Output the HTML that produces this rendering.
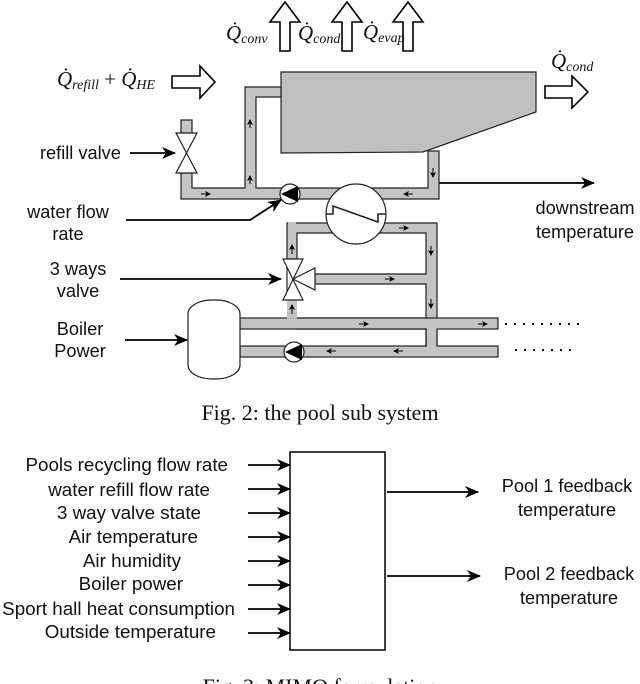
<!DOCTYPE html>
<html><head><style>
body{margin:0;background:#fff;width:640px;height:684px;overflow:hidden}
svg{display:block}
.s{font-family:"Liberation Sans",sans-serif;font-size:18.2px;fill:#111}
.t{font-family:"Liberation Sans",sans-serif;font-size:18.8px;fill:#111}
.m{font-family:"Liberation Serif",serif;font-style:italic;fill:#111}
</style></head><body>
<svg width="640" height="684" viewBox="0 0 640 684" xmlns="http://www.w3.org/2000/svg">
<defs>
<marker id="a" markerWidth="6" markerHeight="6" refX="5" refY="3" orient="auto" markerUnits="userSpaceOnUse"><path d="M0,0 L6,3 L0,6 L1.5,3 Z" fill="#000"/></marker>
<marker id="b" markerWidth="14" markerHeight="12" refX="13" refY="6" orient="auto" markerUnits="userSpaceOnUse"><path d="M0,0 L14,6 L0,12 L4,6 Z" fill="#000"/></marker>
</defs>
<path d="M281,72 L536,72 L536,112 L423,152 L281,153 Z" fill="#c0c0c0" stroke="#222" stroke-width="1.2"/>
<g fill="#c4c4c4" stroke="#222" stroke-width="1.2">
<path d="M281,87 L245,87 L245,188 L192,188 L192,173 L181,173 L181,199 L439,199 L439,151 L428,151 L428,188 L256,188 L256,97 L281,97 Z"/>
<rect x="181" y="120" width="11" height="13"/>
<path d="M287,300 L287,223 L437,223 L437,346 L426,346 L426,329 L297,329 L297,318 L426,318 L426,284 L315,284 L315,274 L426,274 L426,233 L297,233 L297,259 L287,259 Z"/>
<rect x="240" y="318" width="258" height="11"/>
<rect x="240" y="346" width="258" height="11"/>
</g>
<g fill="#c4c4c4">
<rect x="287" y="300" width="10" height="18.6"/>
<rect x="427" y="328" width="9.5" height="19"/>
<rect x="288" y="222" width="8" height="12"/>
</g>
<line x1="426" y1="329" x2="426" y2="346" stroke="#222" stroke-width="1.2"/>
<line x1="437" y1="329" x2="437" y2="346" stroke="#222" stroke-width="1.2"/>
<path d="M176,133 L197,133 L176,173 L197,173 Z" fill="#fff" stroke="#222" stroke-width="1.2"/>
<circle cx="290" cy="194" r="10" fill="#fff" stroke="#222" stroke-width="1.2"/>
<path d="M281,194 L298,186 L298,202 Z" fill="#000"/>
<circle cx="294" cy="352" r="10" fill="#fff" stroke="#222" stroke-width="1.2"/>
<path d="M285,352 L302,344 L302,360 Z" fill="#000"/>
<circle cx="356" cy="214" r="30" fill="#fff" stroke="#222" stroke-width="1.2"/>
<path d="M326,214 L333,214 L333,206 L378,222 L378,214 L386,214" fill="none" stroke="#222" stroke-width="1.6"/>
<path d="M283,259 L303,259 L283,300 L303,300 Z" fill="#fff" stroke="#222" stroke-width="1.2"/>
<path d="M293,279 L315,268 L315,290 Z" fill="#fff" stroke="#222" stroke-width="1.2"/>
<rect x="188" y="300" width="52" height="79" rx="24" ry="14" fill="#fff" stroke="#222" stroke-width="1.2"/>
<g stroke="#000" stroke-width="1" fill="#000">
<line x1="250" y1="128" x2="250" y2="120" marker-end="url(#a)"/>
<line x1="250" y1="184" x2="250" y2="176" marker-end="url(#a)"/>
<line x1="201" y1="194" x2="210" y2="194" marker-end="url(#a)"/>
<line x1="413" y1="194" x2="404" y2="194" marker-end="url(#a)"/>
<line x1="433" y1="168" x2="433" y2="177" marker-end="url(#a)"/>
<line x1="399" y1="228" x2="408" y2="228" marker-end="url(#a)"/>
<line x1="431" y1="246" x2="431" y2="255" marker-end="url(#a)"/>
<line x1="431" y1="299" x2="431" y2="308" marker-end="url(#a)"/>
<line x1="385" y1="279" x2="394" y2="279" marker-end="url(#a)"/>
<line x1="292" y1="254" x2="292" y2="245" marker-end="url(#a)"/>
<line x1="292" y1="314" x2="292" y2="305" marker-end="url(#a)"/>
<line x1="359" y1="324" x2="368" y2="324" marker-end="url(#a)"/>
<line x1="478" y1="324" x2="487" y2="324" marker-end="url(#a)"/>
<line x1="403" y1="351" x2="394" y2="351" marker-end="url(#a)"/>
<line x1="336" y1="351" x2="327" y2="351" marker-end="url(#a)"/>
</g>
<line x1="505" y1="324" x2="586" y2="324" stroke="#111" stroke-width="2" stroke-dasharray="2,7"/>
<line x1="515" y1="350" x2="576" y2="350" stroke="#111" stroke-width="2" stroke-dasharray="2,7"/>
<g fill="#fff" stroke="#000" stroke-width="1.6">
<path d="M280,51 L290,51 L290,22 L300,22 L285,2 L270,22 L280,22 Z"/>
<path d="M342,51 L352,51 L352,22 L362,22 L347,2 L332,22 L342,22 Z"/>
<path d="M403,51 L413,51 L413,22 L423,22 L408,2 L393,22 L403,22 Z"/>
<path d="M172,76 L200,76 L200,66 L215,82 L200,98 L200,88 L172,88 Z"/>
<path d="M545,86 L572,86 L572,76 L588,92 L572,108 L572,98 L545,98 Z"/>
</g>
<g class="m">
<text x="226" y="40" font-size="21">Q̇<tspan font-size="14" dy="3">conv</tspan></text>
<text x="298" y="40" font-size="21">Q̇<tspan font-size="14" dy="3">cond</tspan></text>
<text x="363" y="39" font-size="21">Q̇<tspan font-size="14" dy="3">evap</tspan></text>
<text x="57" y="86" font-size="21">Q̇<tspan font-size="14" dy="3">refill</tspan><tspan dy="-3" font-style="normal"> + </tspan>Q̇<tspan font-size="14" dy="3">HE</tspan></text>
<text x="551" y="68" font-size="21">Q̇<tspan font-size="14" dy="3">cond</tspan></text>
</g>
<g class="s">
<text x="40" y="159">refill valve</text>
<text x="68" y="218" text-anchor="middle">water flow</text>
<text x="68" y="240" text-anchor="middle">rate</text>
<text x="78" y="275" text-anchor="middle">3 ways</text>
<text x="78" y="297" text-anchor="middle">valve</text>
<text x="80" y="335" text-anchor="middle">Boiler</text>
<text x="80" y="357" text-anchor="middle">Power</text>
<text x="585" y="214" text-anchor="middle">downstream</text>
<text x="585" y="238" text-anchor="middle">temperature</text>
</g>
<g stroke="#000" stroke-width="1.8" fill="none">
<line x1="130" y1="153" x2="175" y2="153" marker-end="url(#b)"/>
<polyline points="126,220 250,220 281,200" marker-end="url(#b)"/>
<line x1="120" y1="279" x2="281" y2="279" marker-end="url(#b)"/>
<line x1="125" y1="340" x2="187" y2="340" marker-end="url(#b)"/>
<line x1="439" y1="183" x2="594" y2="183" marker-end="url(#b)"/>
</g>
<text x="320" y="420" text-anchor="middle" font-family="Liberation Serif,serif" font-size="22" fill="#111">Fig. 2: the pool sub system</text>
<rect x="290" y="452" width="95" height="198" fill="#fff" stroke="#000" stroke-width="1.5"/>
<g class="t" text-anchor="end">
<text x="228" y="471">Pools recycling flow rate</text>
<text x="210" y="496">water refill flow rate</text>
<text x="201" y="519">3 way valve state</text>
<text x="198" y="543">Air temperature</text>
<text x="181" y="567">Air humidity</text>
<text x="183" y="590">Boiler power</text>
<text x="235" y="615">Sport hall heat consumption</text>
<text x="216" y="638">Outside temperature</text>
</g>
<g stroke="#000" stroke-width="1.8">
<line x1="248" y1="465" x2="290" y2="465" marker-end="url(#b)"/>
<line x1="248" y1="489" x2="290" y2="489" marker-end="url(#b)"/>
<line x1="248" y1="513" x2="290" y2="513" marker-end="url(#b)"/>
<line x1="248" y1="537" x2="290" y2="537" marker-end="url(#b)"/>
<line x1="248" y1="561" x2="290" y2="561" marker-end="url(#b)"/>
<line x1="248" y1="585" x2="290" y2="585" marker-end="url(#b)"/>
<line x1="248" y1="609" x2="290" y2="609" marker-end="url(#b)"/>
<line x1="248" y1="633" x2="290" y2="633" marker-end="url(#b)"/>
<line x1="387" y1="492" x2="478" y2="492" marker-end="url(#b)"/>
<line x1="387" y1="576" x2="480" y2="576" marker-end="url(#b)"/>
</g>
<g class="s" text-anchor="middle">
<text x="567" y="492">Pool 1 feedback</text>
<text x="567" y="516">temperature</text>
<text x="569" y="580">Pool 2  feedback</text>
<text x="569" y="604">temperature</text>
</g>
<text x="320" y="694" text-anchor="middle" font-family="Liberation Serif,serif" font-size="22" fill="#111">Fig. 3: MIMO formulation</text>
</svg>
</body></html>
